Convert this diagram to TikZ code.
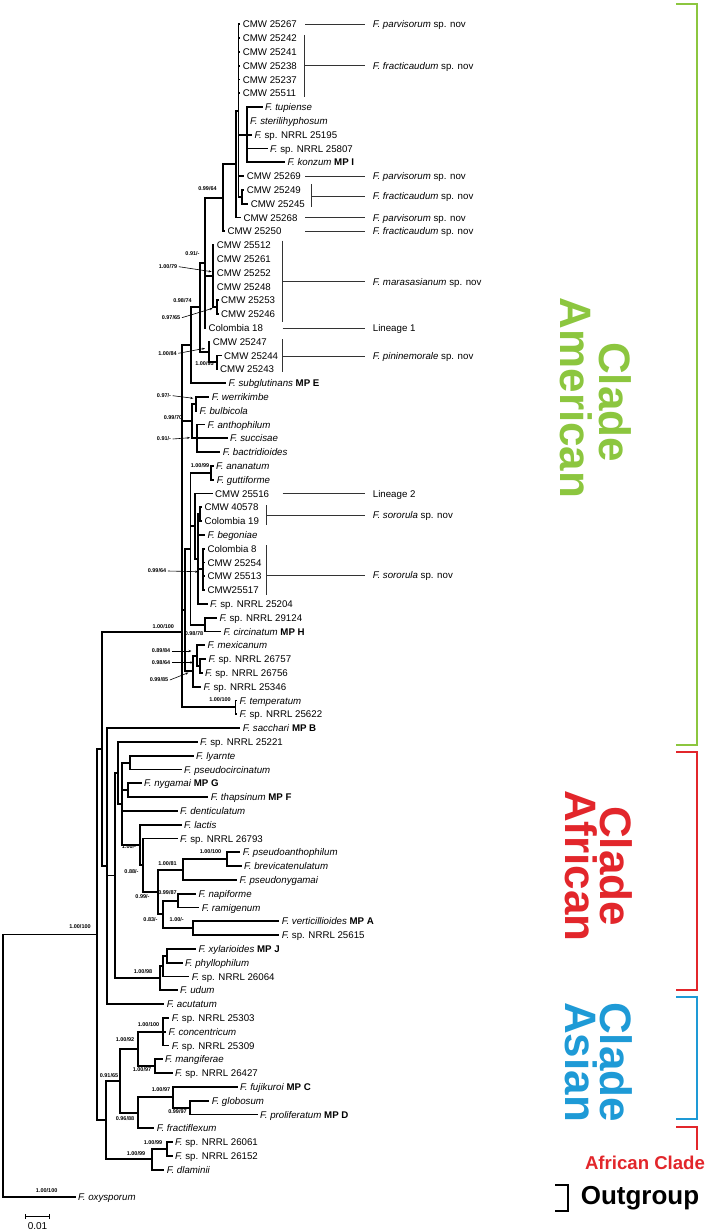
\documentclass[tikz,border=0pt]{standalone}
\usepackage{fontspec}
\setmainfont{Liberation Sans}
\usetikzlibrary{arrows.meta}
\definecolor{amgreen}{HTML}{8CC63F}
\definecolor{afred}{HTML}{E2262B}
\definecolor{asblue}{HTML}{1E9AD6}
\newcommand\leafx[5]{\coordinate (#1) at (#3,#4); \draw[br] (#2) |- (#1); \node[lab] (#1-l) at (#1) {#5};}
\begin{document}
\begin{tikzpicture}[x=1pt,y=-1pt,
  br/.style={line width=1.9pt},
  lab/.style={anchor=west,inner sep=0pt,xshift=2.5pt,font=\fontsize{9.7}{11}\selectfont,text height=7pt,text depth=0pt},
  spl/.style={anchor=west,inner sep=0pt,font=\fontsize{9.7}{11}\selectfont,text height=7pt,text depth=0pt},
  bs/.style={inner sep=0pt,font=\fontsize{5.5}{6}\selectfont\bfseries},
  ann/.style={line width=0.8pt,draw=black!80},
  arr/.style={line width=0.6pt,-{Stealth[length=3pt,width=2.2pt]}},
  cbr/.style={line width=2.5pt},
  ctx/.style={inner sep=0pt,font=\fontsize{44}{46}\selectfont\bfseries,rotate=-90}]
\useasboundingbox (0,0) rectangle (708,1231);
% internal nodes
\coordinate (R) at (3,1065.9);
\coordinate (I) at (97,934.5);
\coordinate (A) at (101.7,748.9);
\coordinate (AM) at (181.7,631.7);
\coordinate (N190) at (190.7,345.25);
\coordinate (N200) at (200,307.4);
\coordinate (N91) at (205,262.8);
\coordinate (N64) at (223.3,197.65);
\coordinate (N236) at (236,164.0);
\coordinate (A1) at (238.5,110.55);
\coordinate (Ttup) at (246.7,134.7);
\coordinate (P49) at (241.7,196.8);
\coordinate (M1) at (213.3,276.15);
\coordinate (M2) at (216.7,307.2);
\coordinate (P84) at (209,352.05);
\coordinate (P95) at (216.7,362.4);
\coordinate (N70) at (191.7,421.05);
\coordinate (W) at (195.7,403.8);
\coordinate (B) at (196.7,438.3);
\coordinate (K1) at (185,609.95);
\coordinate (C9) at (190.5,548.7);
\coordinate (A1g) at (211,472.8);
\coordinate (T) at (195,526.3);
\coordinate (S) at (198,559.05);
\coordinate (S1) at (200,514.2);
\coordinate (S2) at (203.3,569.4);
\coordinate (C) at (205,624.6);
\coordinate (MX3) at (193.3,671.2);
\coordinate (MX2) at (196.7,655.65);
\coordinate (MX1) at (200,666);
\coordinate (T1) at (235.5,707.4);
\coordinate (S106) at (106.7,866.1);
\coordinate (AF) at (115,875.5);
\coordinate (AF2) at (118.3,772.85);
\coordinate (AF3) at (121.7,803.8);
\coordinate (LP) at (130,762.6);
\coordinate (NY) at (128.3,790.2);
\coordinate (L) at (140,844.97);
\coordinate (L2) at (143,865.24);
\coordinate (L3) at (158.3,891.98);
\coordinate (N81) at (183.3,869.55);
\coordinate (PB) at (226.7,859.2);
\coordinate (N83) at (163.3,914.4);
\coordinate (N87) at (178.3,900.6);
\coordinate (NV) at (193.3,928.2);
\coordinate (X3) at (160,978.2);
\coordinate (X2) at (163.3,966.15);
\coordinate (X1) at (166.7,955.8);
\coordinate (E) at (106,1120.1);
\coordinate (C7) at (120,1080.9);
\coordinate (C3) at (138.3,1048.95);
\coordinate (C1) at (163.3,1031.7);
\coordinate (C2) at (155,1066.2);
\coordinate (C6) at (138.3,1112.8);
\coordinate (C5) at (173.3,1097.25);
\coordinate (C4) at (190,1107.6);
\coordinate (D2) at (151.7,1159.35);
\coordinate (D1) at (166.7,1149);
\draw[br] (R)|-(I) (I)|-(A) (I)|-(E) (A)|-(AM) (A)|-(S106)
 (AM)|-(N190) (AM)|-(N70) (AM)|-(K1) (AM)|-(T1)
 (N190)|-(N200) (N200)|-(N91) (N200)|-(P84) (N91)|-(N64) (N91)|-(M1) (N64)|-(N236) (N236)|-(A1) (A1)|-(Ttup) (A1)|-(P49) (M1)|-(M2) (P84)|-(P95)
 (N70)|-(W) (N70)|-(B)
 (K1)|-(C9) (K1)|-(MX3) (C9)|-(A1g) (C9)|-(T) (C9)|-(C) (T)|-(S) (S)|-(S1) (S)|-(S2) (MX3)|-(MX2) (MX2)|-(MX1)
 (S106)|-(AF) (AF)|-(AF2) (AF)|-(X3) (AF2)|-(AF3) (AF3)|-(LP) (AF3)|-(NY) (AF3)|-(L) (L)|-(L2) (L2)|-(L3) (L3)|-(N81) (L3)|-(N83) (N81)|-(PB) (N83)|-(N87) (N83)|-(NV) (X3)|-(X2) (X2)|-(X1)
 (E)|-(C7) (E)|-(D2) (C7)|-(C3) (C7)|-(C6) (C3)|-(C1) (C3)|-(C2) (C6)|-(C5) (C5)|-(C4) (D2)|-(D1);
% leaves
\leafx{c25267}{A1}{240.2}{24.3}{CMW 25267}
\leafx{c25242}{A1}{240.2}{38.1}{CMW 25242}
\leafx{c25241}{A1}{240.2}{51.9}{CMW 25241}
\leafx{c25238}{A1}{240.2}{65.7}{CMW 25238}
\leafx{c25237}{A1}{240.2}{79.5}{CMW 25237}
\leafx{c25511}{A1}{240.2}{93.3}{CMW 25511}
\leafx{tup}{Ttup}{262.5}{107.1}{\textit{F. tupiense}}
\leafx{ster}{Ttup}{247.5}{120.9}{\textit{F. sterilihyphosum}}
\leafx{n25195}{Ttup}{251.8}{134.7}{\textit{F.} sp. NRRL 25195}
\leafx{n25807}{Ttup}{267.5}{148.5}{\textit{F.} sp. NRRL 25807}
\leafx{konz}{Ttup}{284.8}{162.3}{\textit{F. konzum} \textbf{MP I}}
\leafx{c25269}{A1}{244.2}{176.1}{CMW 25269}
\leafx{c25249}{P49}{244.2}{189.9}{CMW 25249}
\leafx{c25245}{P49}{248.2}{203.7}{CMW 25245}
\leafx{c25268}{N236}{240.8}{217.5}{CMW 25268}
\leafx{c25250}{N64}{224.8}{231.3}{CMW 25250}
\leafx{c25512}{M1}{214.2}{245.1}{CMW 25512}
\leafx{c25261}{M1}{214.2}{258.9}{CMW 25261}
\leafx{c25252}{M1}{214.2}{272.7}{CMW 25252}
\leafx{c25248}{M1}{214.2}{286.5}{CMW 25248}
\leafx{c25253}{M2}{218.5}{300.3}{CMW 25253}
\leafx{c25246}{M2}{218.5}{314.1}{CMW 25246}
\leafx{col18}{N91}{205.8}{327.9}{Colombia 18}
\leafx{c25247}{P84}{210.2}{341.7}{CMW 25247}
\leafx{c25244}{P95}{221.5}{355.5}{CMW 25244}
\leafx{c25243}{P95}{217.5}{369.3}{CMW 25243}
\leafx{subg}{N190}{225.8}{383.1}{\textit{F. subglutinans} \textbf{MP E}}
\leafx{werr}{W}{209.2}{396.9}{\textit{F. werrikimbe}}
\leafx{bulb}{W}{196.8}{410.7}{\textit{F. bulbicola}}
\leafx{anth}{B}{204.8}{424.5}{\textit{F. anthophilum}}
\leafx{succ}{B}{227.5}{438.3}{\textit{F. succisae}}
\leafx{bact}{B}{220.2}{452.1}{\textit{F. bactridioides}}
\leafx{anan}{A1g}{213.5}{465.9}{\textit{F. ananatum}}
\leafx{gutt}{A1g}{214.2}{479.7}{\textit{F. guttiforme}}
\leafx{c25516}{T}{212.5}{493.5}{CMW 25516}
\leafx{c40578}{S1}{201.8}{507.3}{CMW 40578}
\leafx{col19}{S1}{201.8}{521.1}{Colombia 19}
\leafx{bego}{S}{204.8}{534.9}{\textit{F. begoniae}}
\leafx{col8}{S2}{204.8}{548.7}{Colombia 8}
\leafx{c25254}{S2}{204.8}{562.5}{CMW 25254}
\leafx{c25513}{S2}{204.8}{576.3}{CMW 25513}
\leafx{c25517}{S2}{204.8}{590.1}{CMW25517}
\leafx{n25204}{S}{207.5}{603.9}{\textit{F.} sp. NRRL 25204}
\leafx{n29124}{C}{216.8}{617.7}{\textit{F.} sp. NRRL 29124}
\leafx{circ}{C}{220.8}{631.5}{\textit{F. circinatum} \textbf{MP H}}
\leafx{mex}{MX2}{204.8}{645.3}{\textit{F. mexicanum}}
\leafx{n26757}{MX1}{205.8}{659.1}{\textit{F.} sp. NRRL 26757}
\leafx{n26756}{MX1}{202.5}{672.9}{\textit{F.} sp. NRRL 26756}
\leafx{n25346}{MX3}{200.8}{686.7}{\textit{F.} sp. NRRL 25346}
\leafx{temp}{T1}{236.8}{700.5}{\textit{F. temperatum}}
\leafx{n25622}{T1}{236.8}{714.3}{\textit{F.} sp. NRRL 25622}
\leafx{sacc}{S106}{240.2}{728.1}{\textit{F. sacchari} \textbf{MP B}}
\leafx{n25221}{AF2}{197.5}{741.9}{\textit{F.} sp. NRRL 25221}
\leafx{lyar}{LP}{193.5}{755.7}{\textit{F. lyarnte}}
\leafx{pcirc}{LP}{181.5}{769.5}{\textit{F. pseudocircinatum}}
\leafx{nyga}{NY}{141.5}{783.3}{\textit{F. nygamai} \textbf{MP G}}
\leafx{thap}{NY}{208.2}{797.1}{\textit{F. thapsinum} \textbf{MP F}}
\leafx{dent}{AF3}{177.5}{810.9}{\textit{F. denticulatum}}
\leafx{lact}{L}{181.5}{824.7}{\textit{F. lactis}}
\leafx{n26793}{L2}{177.5}{838.5}{\textit{F.} sp. NRRL 26793}
\leafx{pant}{PB}{240.2}{852.3}{\textit{F. pseudoanthophilum}}
\leafx{brev}{PB}{241.5}{866.1}{\textit{F. brevicatenulatum}}
\leafx{pnyg}{N81}{236.8}{879.9}{\textit{F. pseudonygamai}}
\leafx{napi}{N87}{195.8}{893.7}{\textit{F. napiforme}}
\leafx{rami}{N87}{199.2}{907.5}{\textit{F. ramigenum}}
\leafx{vert}{NV}{279.2}{921.3}{\textit{F. verticillioides} \textbf{MP A}}
\leafx{n25615}{NV}{279.2}{935.1}{\textit{F.} sp. NRRL 25615}
\leafx{xyla}{X1}{195.8}{948.9}{\textit{F. xylarioides} \textbf{MP J}}
\leafx{phyl}{X1}{182.5}{962.7}{\textit{F. phyllophilum}}
\leafx{n26064}{X2}{189.2}{976.5}{\textit{F.} sp. NRRL 26064}
\leafx{udum}{X3}{177.5}{990.3}{\textit{F. udum}}
\leafx{acut}{S106}{164.2}{1004.1}{\textit{F. acutatum}}
\leafx{n25303}{C1}{169.2}{1017.9}{\textit{F.} sp. NRRL 25303}
\leafx{conc}{C1}{165.8}{1031.7}{\textit{F. concentricum}}
\leafx{n25309}{C1}{169.2}{1045.5}{\textit{F.} sp. NRRL 25309}
\leafx{mang}{C2}{162.5}{1059.3}{\textit{F. mangiferae}}
\leafx{n26427}{C2}{172.5}{1073.1}{\textit{F.} sp. NRRL 26427}
\leafx{fuji}{C5}{237.5}{1086.9}{\textit{F. fujikuroi} \textbf{MP C}}
\leafx{glob}{C4}{209.2}{1100.7}{\textit{F. globosum}}
\leafx{prol}{C4}{257.5}{1114.5}{\textit{F. proliferatum} \textbf{MP D}}
\leafx{frac}{C6}{154.2}{1128.3}{\textit{F. fractiflexum}}
\leafx{n26061}{D1}{172.5}{1142.1}{\textit{F.} sp. NRRL 26061}
\leafx{n26152}{D1}{172.5}{1155.9}{\textit{F.} sp. NRRL 26152}
\leafx{dlam}{D2}{164.2}{1169.7}{\textit{F. dlaminii}}
\leafx{oxy}{R}{75.5}{1197.3}{\textit{F. oxysporum}}
% support values
\node[bs] (b01) at (207.5,188.7) {0.99/64};
\node[bs] (b02) at (192.5,253.3) {0.91/-};
\node[bs] (b03) at (168,266.7) {1.00/79};
\node[bs] (b04) at (182.5,301) {0.98/74};
\node[bs] (b05) at (171,317.7) {0.97/65};
\node[bs] (b06) at (167.5,353.3) {1.00/84};
\node[bs] (b07) at (204.5,363.3) {1.00/95};
\node[bs] (b08) at (164,395.7) {0.97/-};
\node[bs] (b09) at (173,417.3) {0.99/70};
\node[bs] (b10) at (164,439) {0.91/-};
\node[bs] (b11) at (200,466) {1.00/99};
\node[bs] (b12) at (157,571) {0.99/64};
\node[bs] (b13) at (163.3,626.7) {1.00/100};
\node[bs] (b14) at (194,634) {0.98/78};
\node[bs] (b15) at (161,651) {0.89/84};
\node[bs] (b16) at (161,662.5) {0.98/64};
\node[bs] (b17) at (159,680) {0.99/85};
\node[bs] (b18) at (220,700) {1.00/100};
\node[bs] (b19) at (129,847) {1.00/-};
\node[bs] (b20) at (131.5,871.5) {0.88/-};
\node[bs] (b21) at (210.5,852) {1.00/100};
\node[bs] (b22) at (167.5,863.3) {1.00/81};
\node[bs] (b23) at (142.5,896.7) {0.99/-};
\node[bs] (b24) at (167.5,892.7) {0.99/87};
\node[bs] (b25) at (150.5,920) {0.83/-};
\node[bs] (b26) at (176.7,920) {1.00/-};
\node[bs] (b27) at (143,972) {1.00/98};
\node[bs] (b28) at (80,927) {1.00/100};
\node[bs] (b29) at (148.5,1025) {1.00/100};
\node[bs] (b30) at (125,1040) {1.00/92};
\node[bs] (b31) at (142,1070) {1.00/97};
\node[bs] (b32) at (109,1075.7) {0.91/65};
\node[bs] (b33) at (161,1090) {1.00/97};
\node[bs] (b34) at (177.5,1111.7) {0.99/97};
\node[bs] (b35) at (125,1118.3) {0.96/88};
\node[bs] (b36) at (153,1142.3) {1.00/99};
\node[bs] (b37) at (136,1153.3) {1.00/99};
\node[bs] (b38) at (46.7,1191) {1.00/100};
% arrows
\coordinate (t03) at (211.7,271.7);
\coordinate (t05) at (212.7,308.3);
\coordinate (t06) at (205,348.3);
\coordinate (t08) at (193.3,398.3);
\coordinate (t10) at (190,437.7);
\coordinate (t12) at (198.3,571.7);
\coordinate (t15) at (191.5,651);
\coordinate (t16) at (193.3,662.5);
\coordinate (t17) at (188.3,672.7);
\draw[arr] ([xshift=1.5pt]b03.east) -- (t03);
\draw[arr] ([xshift=1.5pt]b05.east) -- (t05);
\draw[arr] ([xshift=1.5pt]b06.east) -- (t06);
\draw[arr] ([xshift=1.5pt]b08.east) -- (t08);
\draw[arr] ([xshift=1.5pt]b10.east) -- (t10);
\draw[arr] ([xshift=1.5pt]b12.east) -- (t12);
\draw[arr] ([xshift=1.5pt]b15.east) -- (t15);
\draw[arr] ([xshift=1.5pt]b16.east) -- (t16);
\draw[arr] ([xshift=1.5pt]b17.east) -- (t17);
% species annotations
\node[spl] (s01) at (372.7,24.3) {\textit{F. parvisorum} sp. nov};
\node[spl] (s02) at (372.7,65.7) {\textit{F. fracticaudum} sp. nov};
\node[spl] (s03) at (372.7,176.1) {\textit{F. parvisorum} sp. nov};
\node[spl] (s04) at (372.7,196) {\textit{F. fracticaudum} sp. nov};
\node[spl] (s05) at (372.7,217.5) {\textit{F. parvisorum} sp. nov};
\node[spl] (s06) at (372.7,231.3) {\textit{F. fracticaudum} sp. nov};
\node[spl] (s07) at (372.7,281.7) {\textit{F. marasasianum} sp. nov};
\node[spl] (s08) at (372.7,327.9) {Lineage 1};
\node[spl] (s09) at (372.7,356) {\textit{F. pininemorale} sp. nov};
\node[spl] (s10) at (372.7,493.5) {Lineage 2};
\node[spl] (s11) at (372.7,515) {\textit{F. sororula} sp. nov};
\node[spl] (s12) at (372.7,575) {\textit{F. sororula} sp. nov};
\coordinate (k01) at (305,24.3);
\coordinate (k02a) at (304,35); \coordinate (k02b) at (304,96.7); \coordinate (k02) at (304,65.7);
\coordinate (k03) at (305,176.1);
\coordinate (k04a) at (311.7,184); \coordinate (k04b) at (311.7,207.3); \coordinate (k04) at (311.7,196);
\coordinate (k05) at (305,217.5);
\coordinate (k06) at (305,231.3);
\coordinate (k07a) at (282.7,240.7); \coordinate (k07b) at (282.7,321.7); \coordinate (k07) at (282.7,281.7);
\coordinate (k08) at (282.7,327.9);
\coordinate (k09a) at (282.7,339.3); \coordinate (k09b) at (282.7,371.7); \coordinate (k09) at (282.7,356);
\coordinate (k10) at (282.7,493.5);
\coordinate (k11a) at (266.7,505); \coordinate (k11b) at (266.7,524.5); \coordinate (k11) at (266.7,515);
\coordinate (k12a) at (266.7,545); \coordinate (k12b) at (266.7,595); \coordinate (k12) at (266.7,575);
\foreach \k in {01,02,03,04,05,06,07,08,09,10,11,12}{\draw[ann] (k\k) -- ([xshift=-8pt]s\k.west);}
\foreach \k in {02,04,07,09,11,12}{\draw[ann] (k\k a) -- (k\k b);}
% clade brackets
\draw[cbr,amgreen] (676,4) -- (697,4) -- (697,745) -- (676,745);
\draw[cbr,afred] (676,752) -- (697,752) -- (697,990) -- (676,990);
\draw[cbr,asblue] (676,997) -- (697,997) -- (697,1119) -- (676,1119);
\draw[cbr,afred] (676,1127) -- (697,1127) -- (697,1150);
\draw[cbr,black] (555,1185) -- (568,1185) -- (568,1211) -- (555,1211);
\node[ctx,amgreen] (cl1) at (576,398) {American};
\node[ctx,amgreen] (cl2) at (615,402) {Clade};
\node[ctx,afred] (cl3) at (581,866) {African};
\node[ctx,afred] (cl4) at (616,866) {Clade};
\node[ctx,asblue] (cl5) at (581,1062) {Asian};
\node[ctx,asblue] (cl6) at (616,1062) {Clade};
\node[inner sep=0pt,font=\fontsize{18.6}{20}\selectfont\bfseries,afred] (cl7) at (645,1163) {African Clade};
\node[inner sep=0pt,font=\fontsize{26}{28}\selectfont\bfseries] (cl8) at (640,1198) {Outgroup};
% scale bar
\coordinate (sb1) at (25,1216); \coordinate (sb2) at (49,1216);
\draw[line width=0.7pt] (sb1) -- (sb2) ([yshift=-2.5pt]sb1) -- ([yshift=2.5pt]sb1) ([yshift=-2.5pt]sb2) -- ([yshift=2.5pt]sb2);
\node[inner sep=0pt,font=\fontsize{10}{12}\selectfont] (sbl) at (37.5,1226) {0.01};
\end{tikzpicture}
\end{document}
